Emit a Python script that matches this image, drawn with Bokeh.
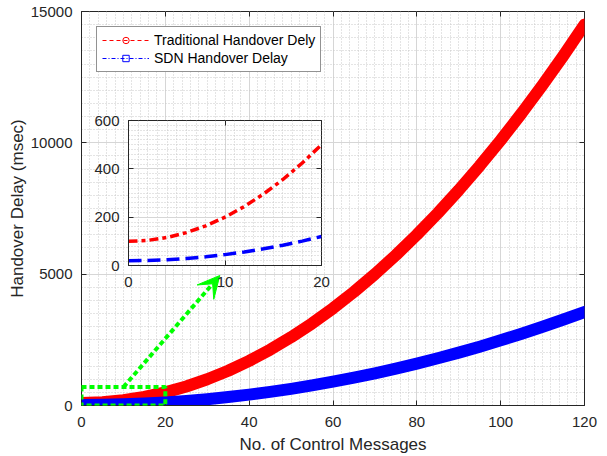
from bokeh.plotting import figure
from bokeh.models import (Range1d, LinearAxis, SingleIntervalTicker, Legend, LegendItem,
                          Arrow, VeeHead, ColumnDataSource, BoxAnnotation, Column, Row,
                          CustomLabelingPolicy)
from bokeh.embed import file_html
from bokeh.resources import INLINE

# Handover delay (msec) versus number of control messages
messages = [0, 5, 10, 15, 20, 25, 30, 35, 40, 45, 50, 55, 60,
            65, 70, 75, 80, 85, 90, 95, 100, 105, 110, 115, 120]
traditional_delay = [100, 125, 200, 325, 500, 725, 1000, 1325, 1700, 2125, 2600, 3125, 3700,
                     4325, 5000, 5725, 6500, 7325, 8200, 9125, 10100, 11125, 12200, 13325, 14500]
sdn_delay = [20, 26, 45, 75, 118, 174, 241, 321, 414, 518, 635, 764, 906,
             1059, 1225, 1404, 1594, 1797, 2013, 2240, 2480, 2732, 2997, 3273, 3562]

# Close-up of the first 20 messages
zoom_messages = [0, 2, 4, 6, 8, 10, 12, 14, 16, 18, 20]
zoom_traditional = [100, 104, 116, 136, 164, 200, 244, 296, 356, 424, 500]
zoom_sdn = [20, 21, 24, 29, 36, 45, 56, 69, 84, 101, 120]

series_labels = ["Traditional Handover Dely", "SDN Handover Delay"]

# Region magnified in the close-up, and the pointer towards it
zoom_window = dict(left=0, right=20, bottom=0, top=700)
pointer = dict(x_start=10, y_start=700, x_end=33, y_end=4950)

FONT = "Liberation Sans"
INK = "#262626"
RED = "#ff0000"
BLUE = "#0000ff"
GREEN = "#00ff00"

# top/right box axes carry tick marks only
NO_LABELS = CustomLabelingPolicy(code="""
    for (const i of Array.from(indices)) indices.unset(i)
    return indices
""")


def style_axis(axis, font_size="15px"):
    axis.axis_line_color = INK
    axis.major_tick_line_color = INK
    axis.major_tick_in = 5
    axis.major_tick_out = 0
    axis.minor_tick_line_color = None
    axis.major_label_text_font = FONT
    axis.major_label_text_font_size = font_size
    axis.major_label_text_color = INK


def style_grid(fig):
    for g in (fig.xgrid, fig.ygrid):
        g.grid_line_color = "#d6d6d6"
        g.grid_line_width = 1
        g.minor_grid_line_color = "#c8c8c8"
        g.minor_grid_line_dash = "1 2"
        g.minor_grid_line_width = 1


def add_box_ticks(fig, xticker, yticker):
    for side, tk in (("above", xticker), ("right", yticker)):
        ax = LinearAxis(ticker=tk)
        style_axis(ax)
        ax.axis_line_color = None
        ax.major_label_policy = NO_LABELS
        ax.major_label_text_font_size = "1px"
        ax.major_label_standoff = 0
        fig.add_layout(ax, side)


# ---------------- main chart ----------------
xt = SingleIntervalTicker(interval=20, num_minor_ticks=10)
yt = SingleIntervalTicker(interval=5000, num_minor_ticks=10)

p = figure(width=607, height=456, x_range=Range1d(0, 120), y_range=Range1d(0, 15000),
           output_backend="svg", toolbar_location=None,
           min_border_left=81, min_border_right=23, min_border_top=11, min_border_bottom=51,
           background_fill_color="white", border_fill_color="white",
           outline_line_color=INK)
p.xaxis.ticker = xt
p.yaxis.ticker = yt
p.xgrid.ticker = xt
p.ygrid.ticker = yt
style_grid(p)
for ax in p.xaxis + p.yaxis:
    style_axis(ax)
p.xaxis.major_label_standoff = 7
p.yaxis.major_label_standoff = 5
p.xaxis.axis_label = "No. of Control Messages"
p.yaxis.axis_label = "Handover Delay (msec)"
for ax in p.xaxis + p.yaxis:
    ax.axis_label_text_font = FONT
    ax.axis_label_text_font_size = "17px"
    ax.axis_label_text_font_style = "normal"
    ax.axis_label_text_color = INK
p.xaxis.axis_label_standoff = 5
p.yaxis.axis_label_standoff = 1
add_box_ticks(p, xt, yt)

src = ColumnDataSource(dict(n=messages, trad=traditional_delay, sdn=sdn_delay))
p.line("n", "trad", source=src, line_color=RED, line_width=12,
       line_cap="round", line_join="round")
p.line("n", "sdn", source=src, line_color=BLUE, line_width=12,
       line_cap="square", line_join="round")

# legend samples (a single undefined point, so nothing lands on the chart)
blank = ColumnDataSource(dict(x=[float("nan")], y=[float("nan")]))
trad_line = p.line("x", "y", source=blank, line_color=RED, line_width=1, line_dash="4 3")
trad_mark = p.scatter("x", "y", source=blank, marker="circle", size=12,
                      line_color=RED, fill_color=None, line_width=1)
sdn_line = p.line("x", "y", source=blank, line_color=BLUE, line_width=1, line_dash="4 2 1 2")
sdn_mark = p.scatter("x", "y", source=blank, marker="square", size=11,
                     line_color=BLUE, fill_color=None, line_width=1)
legend = Legend(items=[LegendItem(label=series_labels[0], renderers=[trad_line, trad_mark]),
                       LegendItem(label=series_labels[1], renderers=[sdn_line, sdn_mark])],
                location="top_left", margin=15, padding=5, spacing=2,
                glyph_width=47, glyph_height=16, label_height=16, label_standoff=5,
                label_text_font=FONT, label_text_font_size="14px", label_text_color="black",
                border_line_color=INK, border_line_width=1,
                background_fill_color="white", background_fill_alpha=1)
p.add_layout(legend)

p.add_layout(BoxAnnotation(**zoom_window, fill_alpha=0, line_color=GREEN, line_alpha=1,
                           line_width=4, line_dash="5 3"))
p.add_layout(Arrow(**pointer, line_color=GREEN, line_width=4, line_dash="5 3",
                   end=VeeHead(size=22, fill_color=GREEN, line_color=GREEN, line_width=1)))

# ---------------- close-up panel ----------------
ixt = SingleIntervalTicker(interval=10, num_minor_ticks=10)
iyt = SingleIntervalTicker(interval=200, num_minor_ticks=10)
inset = figure(width=242, height=181, x_range=Range1d(0, 20), y_range=Range1d(0, 600),
               output_backend="svg", toolbar_location=None,
               min_border_left=40, min_border_right=8, min_border_top=8, min_border_bottom=28,
               background_fill_color="white", border_fill_alpha=0,
               outline_line_color=INK)
inset.xaxis.ticker = ixt
inset.yaxis.ticker = iyt
inset.xgrid.ticker = ixt
inset.ygrid.ticker = iyt
style_grid(inset)
for ax in inset.xaxis + inset.yaxis:
    style_axis(ax)
inset.xaxis.major_label_standoff = 7
inset.yaxis.major_label_standoff = 5
add_box_ticks(inset, ixt, iyt)

isrc = ColumnDataSource(dict(n=zoom_messages, trad=zoom_traditional, sdn=zoom_sdn))
inset.line("n", "trad", source=isrc, line_color=RED, line_width=3.5, line_dash="9 4 4 4")
inset.line("n", "sdn", source=isrc, line_color=BLUE, line_width=3.5, line_dash="13 6")

# the close-up floats over the main chart
holder = Row(children=[inset],
             styles={"position": "absolute", "left": "88px", "top": "112px"})

page = Column(children=[p, holder])
open("out.html", "w").write(file_html(page, INLINE))
